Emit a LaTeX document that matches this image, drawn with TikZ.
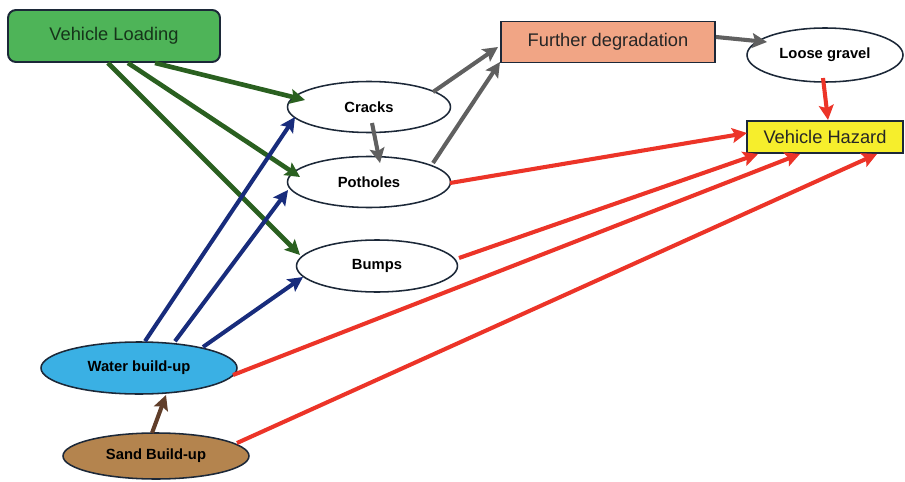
\documentclass[tikz,border=0pt]{standalone}
\usepackage{fontspec}
\setmainfont{Liberation Sans}
\usetikzlibrary{shapes,arrows.meta,positioning}
\definecolor{edgecolor}{RGB}{28,40,56}
\definecolor{loadcolor}{RGB}{78,180,88}
\definecolor{loadtext}{RGB}{22,52,26}
\definecolor{degradecolor}{RGB}{241,165,133}
\definecolor{hazardcolor}{RGB}{246,238,44}
\definecolor{watercolor}{RGB}{58,176,228}
\definecolor{sandcolor}{RGB}{180,132,78}
\definecolor{greenarrow}{RGB}{42,96,32}
\definecolor{bluearrow}{RGB}{24,44,124}
\definecolor{grayarrow}{RGB}{96,96,96}
\definecolor{redarrow}{RGB}{236,52,40}
\definecolor{brownarrow}{RGB}{96,62,42}

\begin{document}
\begin{tikzpicture}[
    box/.style={rectangle, draw=edgecolor, line width=1.4pt, inner sep=0pt, text centered, font=\fontsize{13}{15}\selectfont},
    state/.style={ellipse, draw=edgecolor, line width=1.1pt, inner sep=0pt, fill=white, text centered, font=\fontsize{10.5}{12}\selectfont\bfseries},
    arrow/.style={-{Stealth[length=10.5pt, width=10.5pt, inset=2pt]}, line width=2.9pt}
]
\useasboundingbox (0,0) rectangle (22.625,12.025);

% Causes
\node[box, rounded corners=0.2cm, fill=loadcolor, text=loadtext, minimum width=5.3cm, minimum height=1.3cm] (load) at (2.85,11.125) {Vehicle Loading};
\node[state, fill=watercolor, minimum width=4.9cm, minimum height=1.3cm] (water) at (3.475,2.825) {Water build-up};
\node[state, fill=sandcolor, minimum width=4.65cm, minimum height=1.15cm] (sand) at (3.9,0.625) {Sand Build-up};

% Road defects
\node[state, minimum width=4.075cm, minimum height=1.275cm] (cracks) at (9.225,9.35) {Cracks};
\node[state, minimum width=4.075cm, minimum height=1.275cm] (potholes) at (9.225,7.475) {Potholes};
\node[state, minimum width=4.025cm, minimum height=1.3cm] (bumps) at (9.425,5.375) {Bumps};

% Consequences
\node[box, fill=degradecolor, text=black!85, minimum width=5.35cm, minimum height=1.025cm] (further) at (15.2,10.975) {Further degradation};
\node[state, minimum width=3.9cm, minimum height=1.35cm] (gravel) at (20.625,10.65) {Loose gravel};
\node[box, fill=hazardcolor, text=black!85, minimum width=3.9cm, minimum height=0.8cm] (hazard) at (20.625,8.6) {Vehicle Hazard};

% Loading arrows
\draw[arrow, greenarrow, line width=3.3pt] ([xshift=1.025cm]load.south) -- ([shift={(-1.6,0.175)}]cracks.center);
\draw[arrow, greenarrow, line width=3.3pt] ([xshift=0.35cm]load.south) -- ([shift={(-1.725,0.125)}]potholes.center);
\draw[arrow, greenarrow, line width=3.3pt] ([xshift=-0.15cm]load.south) -- ([shift={(-1.925,0.275)}]bumps.center);

% Water arrows
\draw[arrow, bluearrow] ([xshift=0.15cm]water.north) -- ([shift={(-1.85,-0.25)}]cracks.center);
\draw[arrow, bluearrow] ([xshift=0.9cm]water.north) -- ([shift={(-2.025,-0.2)}]potholes.center);
\draw[arrow, bluearrow] ([shift={(1.6,0.525)}]water.center) -- ([shift={(-1.85,-0.275)}]bumps.center);
\draw[arrow, brownarrow] ([shift={(-0.1,0.575)}]sand.center) -- ([shift={(0.675,-0.675)}]water.center);

% Degradation arrows
\draw[arrow, grayarrow] ([shift={(0.075,-0.4)}]cracks.center) -- ([shift={(0.275,0.475)}]potholes.center);
\draw[arrow, grayarrow] ([shift={(1.6,0.375)}]cracks.center) -- ([shift={(-2.75,-0.125)}]further.center);
\draw[arrow, grayarrow] ([shift={(1.6,0.475)}]potholes.center) -- ([shift={(-2.7,-0.5)}]further.center);
\draw[arrow, grayarrow] ([yshift=0.125cm]further.east) -- ([shift={(-1.45,0.325)}]gravel.center);

% Hazard arrows
\draw[arrow, redarrow] ([shift={(-0.05,-0.575)}]gravel.center) -- ([xshift=0.075cm]hazard.north);
\draw[arrow, redarrow] ([shift={(2.025,-0.025)}]potholes.center) -- ([shift={(-1.95,0.1)}]hazard.center);
\draw[arrow, redarrow] ([shift={(2.05,0.2)}]bumps.center) -- ([xshift=-1.675cm]hazard.south);
\draw[arrow, redarrow] ([shift={(2.35,-0.175)}]water.center) -- ([xshift=-0.625cm]hazard.south);
\draw[arrow, redarrow] ([shift={(2.025,0.325)}]sand.center) -- ([xshift=1.3cm]hazard.south);

\end{tikzpicture}
\end{document}
